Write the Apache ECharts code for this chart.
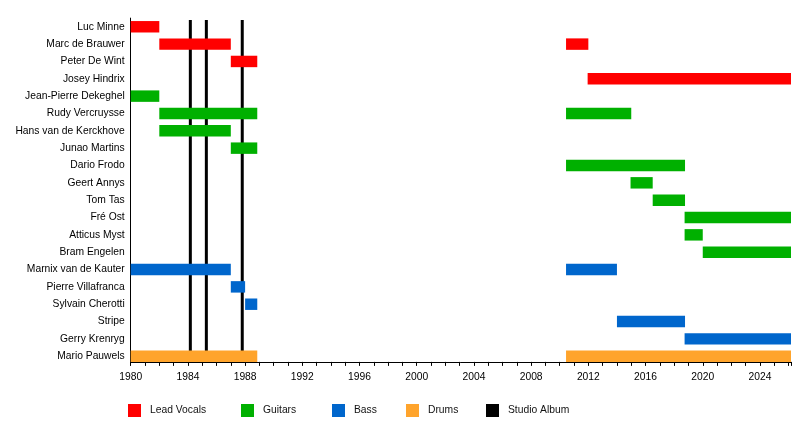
<!DOCTYPE html>
<html>
<head>
<meta charset="utf-8">
<script src="https://cdn.jsdelivr.net/npm/echarts@6/dist/echarts.min.js"></script>
<style>
	html, body { margin: 0; padding: 0; background: #fff; }
	#chart { width: 800px; height: 422px; }
</style>
</head>
<body>
<div id="chart"></div>
<script>
	// members, top to bottom
	var members = [ 'Luc Minne', 'Marc de Brauwer', 'Peter De Wint', 'Josey Hindrix', 'Jean-Pierre Dekeghel',
		'Rudy Vercruysse', 'Hans van de Kerckhove', 'Junao Martins', 'Dario Frodo', 'Geert Annys', 'Tom Tas',
		'Fré Ost', 'Atticus Myst', 'Bram Engelen', 'Marnix van de Kauter', 'Pierre Villafranca',
		'Sylvain Cherotti', 'Stripe', 'Gerry Krenryg', 'Mario Pauwels' ];

	// [member index, from, to]
	var vocals = [ [ 0, 1980, 1982 ], [ 1, 1982, 1987 ], [ 1, 2010.44, 2012 ], [ 2, 1987, 1988.85 ],
		[ 3, 2011.95, 2026.17 ] ];
	var guitars = [ [ 4, 1980, 1982 ], [ 5, 1982, 1988.85 ], [ 5, 2010.44, 2015 ], [ 6, 1982, 1987 ],
		[ 7, 1987, 1988.85 ], [ 8, 2010.44, 2018.76 ], [ 9, 2014.95, 2016.5 ], [ 10, 2016.5, 2018.76 ],
		[ 11, 2018.73, 2026.17 ], [ 12, 2018.73, 2020 ], [ 13, 2020, 2026.17 ] ];
	var bass = [ [ 14, 1980, 1987 ], [ 14, 2010.44, 2014 ], [ 15, 1987, 1988 ], [ 16, 1988, 1988.85 ],
		[ 17, 2014, 2018.76 ], [ 18, 2018.73, 2026.17 ] ];
	var drums = [ [ 19, 1980, 1988.85 ], [ 19, 2010.44, 2026.17 ] ];

	// studio albums
	var albums = [ 1984.17, 1985.29, 1987.8 ];

	var startYear = 1980;
	var endYear = 2026.17;

	var font = 'Liberation Sans, Arial, sans-serif';

	function renderBar(params, api) {
		var row = api.value(0);
		var p0 = api.coord([ api.value(1), row ]);
		var p1 = api.coord([ api.value(2), row ]);
		var h = api.size([ 0, 1 ])[1] * 0.66;
		return {
			type : 'rect',
			shape : { x : p0[0], y : p0[1] - h / 2, width : p1[0] - p0[0], height : h },
			style : { fill : api.visual('color') }
		};
	}

	function renderAlbum(params, api) {
		var x = api.coord([ api.value(0), 0 ])[0];
		var top = params.coordSys.y + 2;
		var bottom = params.coordSys.y + params.coordSys.height - 3;
		return {
			type : 'line',
			shape : { x1 : x, y1 : top, x2 : x, y2 : bottom },
			style : { stroke : '#000', lineWidth : 3 }
		};
	}

	function barSeries(name, color, data) {
		return {
			name : name,
			type : 'custom',
			renderItem : renderBar,
			itemStyle : { color : color },
			encode : { x : [ 1, 2 ], y : 0 },
			z : 3,
			silent : true,
			data : data
		};
	}

	function legendAt(name, left) {
		return {
			data : [ name ],
			left : left,
			top : 404,
			padding : 0,
			icon : 'rect',
			itemWidth : 13,
			itemHeight : 13,
			selectedMode : false,
			textStyle : { fontFamily : font, fontSize : 10.3, color : '#111', padding : [ 2, 0, 0, 4 ] }
		};
	}

	var option = {
		backgroundColor : '#fff',
		animation : false,
		legend : [ legendAt('Lead Vocals', 128), legendAt('Guitars', 241), legendAt('Bass', 332),
			legendAt('Drums', 406), legendAt('Studio Album', 486) ],
		grid : {
			left : 130.7,
			right : 9,
			top : 18.1,
			height : 346.8
		},
		xAxis : {
			type : 'value',
			min : startYear,
			max : endYear,
			interval : 4,
			offset : -3,
			axisLine : { show : true, lineStyle : { color : '#000', width : 1 } },
			axisTick : { show : true, length : 4, lineStyle : { color : '#000' } },
			minorTick : { show : true, splitNumber : 4, length : 4, lineStyle : { color : '#000' } },
			splitLine : { show : false },
			axisLabel : {
				color : '#000',
				fontFamily : font,
				fontSize : 10.3,
				margin : 10,
				showMaxLabel : false,
				formatter : function(v) {
					return String(v);
				}
			}
		},
		yAxis : {
			type : 'category',
			inverse : true,
			data : members,
			axisLine : { show : true, lineStyle : { color : '#000', width : 1 } },
			axisTick : { show : false },
			axisLabel : { color : '#000', fontFamily : font, fontSize : 10.3, margin : 6 }
		},
		series : [ {
			name : 'Studio Album',
			type : 'custom',
			renderItem : renderAlbum,
			itemStyle : { color : '#000' },
			encode : { x : 0, y : 1 },
			z : 1,
			silent : true,
			data : albums.map(function(a) {
				return [ a, 0 ];
			})
		}, barSeries('Lead Vocals', '#ff0000', vocals), barSeries('Guitars', '#00b000', guitars),
			barSeries('Bass', '#0066cc', bass), barSeries('Drums', '#ffa42c', drums) ]
	};

	var mychart = echarts.init(document.getElementById('chart'));
	mychart.setOption(option);
</script>
</body>
</html>
